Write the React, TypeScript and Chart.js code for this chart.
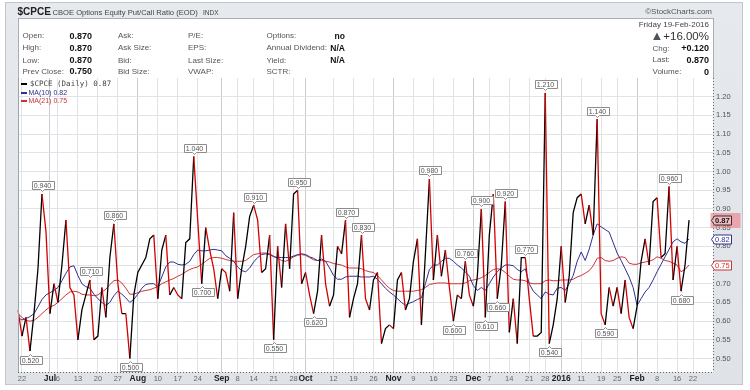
import React, { useEffect, useRef } from 'react';
import { Chart, registerables } from 'chart.js';

Chart.register(...registerables);

// ---------- calendar (category axis) ----------
const FIRST_DAY = '2015-06-19';
const LAST_DAY = '2016-02-29';
const HOLIDAYS = ['2015-07-03', '2015-09-07', '2015-11-26', '2015-12-25', '2016-01-01', '2016-01-18', '2016-02-15'];

function buildTradingDays(): string[] {
  const out: string[] = [];
  const d = new Date(FIRST_DAY + 'T12:00:00Z');
  const end = new Date(LAST_DAY + 'T12:00:00Z');
  while (d <= end) {
    const dow = d.getUTCDay();
    const s = d.toISOString().slice(0, 10);
    if (dow !== 0 && dow !== 6 && !HOLIDAYS.includes(s)) out.push(s);
    d.setUTCDate(d.getUTCDate() + 1);
  }
  return out;
}
const TRADING_DAYS = buildTradingDays();

// ---------- x tick labels ----------
const TICK_DATES = ['2015-06-22', '2015-07-01', '2015-07-06', '2015-07-13', '2015-07-20', '2015-07-27', '2015-08-03', '2015-08-10', '2015-08-17', '2015-08-24', '2015-09-01', '2015-09-08', '2015-09-14', '2015-09-21', '2015-09-28', '2015-10-01', '2015-10-12', '2015-10-19', '2015-10-26', '2015-11-02', '2015-11-09', '2015-11-16', '2015-11-23', '2015-12-01', '2015-12-07', '2015-12-14', '2015-12-21', '2015-12-28', '2016-01-04', '2016-01-11', '2016-01-19', '2016-01-25', '2016-02-01', '2016-02-08', '2016-02-16', '2016-02-22'];
const TICK_TEXTS = ['22', 'Jul', '6', '13', '20', '27', 'Aug', '10', '17', '24', 'Sep', '8', '14', '21', '28', 'Oct', '12', '19', '26', 'Nov', '9', '16', '23', 'Dec', '7', '14', '21', '28', '2016', '11', '19', '25', 'Feb', '8', '16', '22'];
const BOLD_TICKS = ['Jul', 'Aug', 'Sep', 'Oct', 'Nov', 'Dec', '2016', 'Feb'];
const Y_TICKS = [0.5, 0.55, 0.6, 0.65, 0.7, 0.75, 0.8, 0.85, 0.9, 0.95, 1.0, 1.05, 1.1, 1.15, 1.2];

// ---------- series ----------
const CPCE = [
  0.63, 0.56, 0.61, 0.52, 0.62, 0.74, 0.94, 0.84, 0.62, 0.70,
  0.65, 0.75, 0.87, 0.69, 0.67, 0.55, 0.63, 0.67, 0.71, 0.55,
  0.56, 0.69, 0.61, 0.77, 0.86, 0.70, 0.62, 0.62, 0.50, 0.67,
  0.73, 0.75, 0.77, 0.82, 0.83, 0.66, 0.79, 0.83, 0.67, 0.69,
  0.67, 0.66, 0.81, 0.82, 1.04, 0.87, 0.70, 0.85, 0.79, 0.74,
  0.66, 0.74, 0.73, 0.68, 0.89, 0.66, 0.74, 0.80, 0.88, 0.91,
  0.87, 0.73, 0.74, 0.83, 0.55, 0.80, 0.69, 0.86, 0.74, 0.94,
  0.95, 0.70, 0.73, 0.67, 0.62, 0.68, 0.83, 0.70, 0.64, 0.67,
  0.80, 0.78, 0.87, 0.61, 0.66, 0.70, 0.83, 0.66, 0.63, 0.71,
  0.73, 0.54, 0.58, 0.59, 0.58, 0.71, 0.73, 0.63, 0.66, 0.76,
  0.82, 0.59, 0.78, 0.98, 0.71, 0.83, 0.72, 0.79, 0.69, 0.60,
  0.67, 0.66, 0.76, 0.67, 0.64, 0.72, 0.90, 0.61, 0.83, 0.94,
  0.66, 0.75, 0.92, 0.57, 0.66, 0.54, 0.77, 0.77, 0.66, 0.56,
  0.56, 0.57, 1.21, 0.54, 0.59, 0.66, 0.80, 0.65, 0.72, 0.89,
  0.93, 0.94, 0.86, 0.91, 0.83, 1.14, 0.62, 0.59, 0.69, 0.64,
  0.69, 0.62, 0.71, 0.61, 0.58, 0.64, 0.76, 0.82, 0.75, 0.92,
  0.93, 0.77, 0.78, 0.96, 0.71, 0.80, 0.68, 0.75, 0.87,
];

const MA10 = [
  0.610, 0.603, 0.607, 0.612, 0.620, 0.638, 0.658, 0.670, 0.676, 0.682,
  0.690, 0.708, 0.728, 0.745, 0.748, 0.722, 0.700, 0.692, 0.688, 0.672,
  0.660, 0.650, 0.642, 0.650, 0.668, 0.680, 0.672, 0.662, 0.650, 0.658,
  0.672, 0.688, 0.698, 0.700, 0.700, 0.692, 0.718, 0.745, 0.758, 0.758,
  0.752, 0.750, 0.752, 0.760, 0.778, 0.790, 0.788, 0.788, 0.790, 0.792,
  0.790, 0.788, 0.775, 0.768, 0.760, 0.745, 0.735, 0.732, 0.742, 0.758,
  0.770, 0.778, 0.780, 0.778, 0.772, 0.770, 0.770, 0.770, 0.770, 0.774,
  0.778, 0.780, 0.778, 0.772, 0.768, 0.762, 0.766, 0.760, 0.742, 0.722,
  0.712, 0.712, 0.718, 0.720, 0.720, 0.720, 0.718, 0.718, 0.718, 0.720,
  0.712, 0.700, 0.688, 0.678, 0.670, 0.660, 0.650, 0.642, 0.648, 0.652,
  0.658, 0.662, 0.700, 0.738, 0.750, 0.750, 0.760, 0.768, 0.768, 0.760,
  0.750, 0.742, 0.732, 0.720, 0.695, 0.682, 0.690, 0.682, 0.700, 0.718,
  0.732, 0.742, 0.750, 0.750, 0.748, 0.738, 0.732, 0.740, 0.700, 0.680,
  0.670, 0.660, 0.678, 0.672, 0.670, 0.688, 0.690, 0.682, 0.700, 0.722,
  0.760, 0.785, 0.762, 0.792, 0.830, 0.860, 0.852, 0.845, 0.838, 0.810,
  0.782, 0.762, 0.740, 0.718, 0.690, 0.642, 0.660, 0.678, 0.690, 0.710,
  0.732, 0.752, 0.772, 0.792, 0.812, 0.820, 0.812, 0.808, 0.820,
];

const MA21 = [
  0.620, 0.610, 0.602, 0.600, 0.602, 0.610, 0.620, 0.630, 0.638, 0.642,
  0.650, 0.660, 0.670, 0.678, 0.680, 0.678, 0.672, 0.670, 0.670, 0.668,
  0.670, 0.678, 0.685, 0.698, 0.708, 0.710, 0.702, 0.688, 0.672, 0.672,
  0.676, 0.680, 0.682, 0.684, 0.688, 0.692, 0.700, 0.705, 0.710, 0.714,
  0.720, 0.725, 0.732, 0.738, 0.742, 0.745, 0.752, 0.760, 0.768, 0.770,
  0.770, 0.768, 0.765, 0.762, 0.760, 0.760, 0.760, 0.762, 0.770, 0.778,
  0.780, 0.782, 0.782, 0.780, 0.774, 0.768, 0.762, 0.760, 0.765, 0.772,
  0.776, 0.778, 0.776, 0.770, 0.764, 0.762, 0.762, 0.760, 0.758, 0.754,
  0.752, 0.750, 0.745, 0.742, 0.742, 0.742, 0.740, 0.735, 0.732, 0.730,
  0.722, 0.710, 0.698, 0.688, 0.682, 0.680, 0.680, 0.680, 0.680, 0.680,
  0.682, 0.684, 0.690, 0.698, 0.700, 0.702, 0.702, 0.702, 0.700, 0.700,
  0.700, 0.700, 0.702, 0.708, 0.710, 0.712, 0.716, 0.722, 0.730, 0.738,
  0.740, 0.738, 0.730, 0.720, 0.712, 0.710, 0.710, 0.708, 0.702, 0.700,
  0.700, 0.700, 0.708, 0.710, 0.708, 0.708, 0.710, 0.710, 0.710, 0.712,
  0.718, 0.722, 0.728, 0.735, 0.748, 0.768, 0.770, 0.762, 0.760, 0.762,
  0.768, 0.772, 0.770, 0.755, 0.752, 0.752, 0.756, 0.758, 0.760, 0.764,
  0.772, 0.768, 0.762, 0.760, 0.755, 0.750, 0.732, 0.738, 0.750,
];

// indices of annotated extremes
const PEAK_IDX = [6, 18, 24, 44, 59, 70, 82, 86, 103, 112, 116, 122, 127, 132, 145, 163];
const TROUGH_IDX = [3, 28, 46, 64, 74, 109, 117, 120, 133, 147, 166];

const FONT = '"Liberation Sans", Arial, sans-serif';
const RED = '#d40000';
const BLACK = '#000000';
const NAVY = '#2f2f8f';
const MA_RED = '#cc3333';

const tickMap = new Map<string, string>();
TICK_DATES.forEach((d, i) => tickMap.set(d, TICK_TEXTS[i]));

function tickText(index: number): string {
  return tickMap.get(TRADING_DAYS[index]) ?? '';
}

const plotBgPlugin = {
  id: 'plotBg',
  beforeDraw(chart: any) {
    const { ctx, chartArea: a } = chart;
    ctx.save();
    ctx.fillStyle = '#ffffff';
    ctx.fillRect(a.left, a.top, a.right - a.left, a.bottom - a.top);
    ctx.restore();
  },
  afterDraw(chart: any) {
    const { ctx, chartArea: a } = chart;
    ctx.save();
    ctx.lineWidth = 1;
    ctx.strokeStyle = '#9da2a8';
    ctx.beginPath();
    ctx.moveTo(a.left + 0.5, a.top);
    ctx.lineTo(a.left + 0.5, a.bottom);
    ctx.stroke();
    ctx.setLineDash([1, 2]);
    ctx.strokeStyle = '#666';
    ctx.beginPath();
    ctx.moveTo(Math.round(a.right) + 0.5, a.top);
    ctx.lineTo(Math.round(a.right) + 0.5, a.bottom);
    ctx.moveTo(a.left, Math.round(a.bottom) + 0.5);
    ctx.lineTo(a.right, Math.round(a.bottom) + 0.5);
    ctx.stroke();
    ctx.restore();
  },
};

const extremesPlugin = {
  id: 'extremes',
  afterDatasetsDraw(chart: any) {
    const { ctx } = chart;
    const xs = chart.scales.x;
    const ys = chart.scales.y;
    ctx.save();
    ctx.font = '7px ' + FONT;
    ctx.textAlign = 'center';
    ctx.textBaseline = 'middle';
    const draw = (idx: number, above: boolean) => {
      const v = CPCE[idx];
      const px = Math.round(xs.getPixelForValue(idx)) + 0.5;
      const py = ys.getPixelForValue(v);
      const text = v.toFixed(3);
      const w = Math.round(ctx.measureText(text).width) + 4;
      const h = 8;
      const left = Math.round(px - w / 2) + 0.5;
      let top: number;
      ctx.beginPath();
      if (above) {
        top = Math.round(py - 4.5 - h) + 0.5;
        const bottom = top + h;
        ctx.moveTo(left, top);
        ctx.lineTo(left + w, top);
        ctx.lineTo(left + w, bottom);
        ctx.lineTo(px + 2, bottom);
        ctx.lineTo(px, bottom + 2);
        ctx.lineTo(px - 2, bottom);
        ctx.lineTo(left, bottom);
      } else {
        top = Math.round(py + 4.5) + 0.5;
        const bottom = top + h;
        ctx.moveTo(left, top);
        ctx.lineTo(px - 2, top);
        ctx.lineTo(px, top - 2);
        ctx.lineTo(px + 2, top);
        ctx.lineTo(left + w, top);
        ctx.lineTo(left + w, bottom);
        ctx.lineTo(left, bottom);
      }
      ctx.closePath();
      ctx.fillStyle = '#ffffff';
      ctx.fill();
      ctx.strokeStyle = '#8c8c8c';
      ctx.lineWidth = 1;
      ctx.stroke();
      ctx.fillStyle = '#555';
      ctx.fillText(text, px, top + h / 2 + 0.5);
    };
    PEAK_IDX.forEach((i) => draw(i, true));
    TROUGH_IDX.forEach((i) => draw(i, false));
    ctx.restore();
  },
};

function tagPath(ctx: CanvasRenderingContext2D, x: number, y: number, w: number, h: number) {
  ctx.beginPath();
  ctx.moveTo(x, y);
  ctx.lineTo(x + 3, y - h / 2);
  ctx.lineTo(x + w, y - h / 2);
  ctx.lineTo(x + w, y + h / 2);
  ctx.lineTo(x + 3, y + h / 2);
  ctx.closePath();
}

const badgesPlugin = {
  id: 'badges',
  afterDraw(chart: any) {
    const { ctx, chartArea: a } = chart;
    const ys = chart.scales.y;
    const x0 = Math.round(a.right) - 1.5;
    ctx.save();
    ctx.textBaseline = 'middle';
    ctx.textAlign = 'left';
    const badge = (v: number, stroke: string, text: string, fill: string, bold: boolean) => {
      const y = Math.round(ys.getPixelForValue(v)) + 0.5;
      tagPath(ctx, x0, y, 20, 9);
      ctx.fillStyle = fill;
      ctx.fill();
      ctx.strokeStyle = stroke;
      ctx.lineWidth = 1;
      ctx.stroke();
      ctx.fillStyle = text;
      ctx.font = (bold ? 'bold ' : '') + '7.5px ' + FONT;
      ctx.fillText(v.toFixed(2), x0 + 3.5, y + 0.5);
    };
    badge(MA21[MA21.length - 1], MA_RED, MA_RED, '#ffffff', false);
    badge(MA10[MA10.length - 1], NAVY, NAVY, '#ffffff', false);
    const last = CPCE[CPCE.length - 1];
    const yl = Math.round(ys.getPixelForValue(last));
    ctx.fillStyle = 'rgba(238, 120, 132, 0.6)';
    ctx.fillRect(x0 - 1, yl - 7, 30, 15);
    badge(last, '#333333', '#111111', 'rgba(255,255,255,0.25)', true);
    ctx.restore();
  },
};

const T = (p: { l?: number; r?: number; t: number; s: number; b?: boolean; c?: string; f?: string; children: any }) => (
  <div
    style={{
      position: 'absolute',
      left: p.l,
      right: p.r,
      top: p.t,
      fontSize: p.s,
      lineHeight: p.s + 2 + 'px',
      fontWeight: p.b ? 'bold' : 'normal',
      color: p.c ?? '#555',
      fontFamily: p.f ?? FONT,
      whiteSpace: 'nowrap',
    }}
  >
    {p.children}
  </div>
);

export default function App() {
  const canvasRef = useRef<HTMLCanvasElement | null>(null);

  useEffect(() => {
    const canvas = canvasRef.current;
    if (!canvas) return;
    const chart = new Chart(canvas, {
      type: 'line',
      data: {
        labels: TRADING_DAYS,
        datasets: [
          {
            data: CPCE,
            borderColor: BLACK,
            borderWidth: 1.3,
            pointRadius: 0,
            tension: 0,
            segment: {
              borderColor: (c: any) => (c.p1.parsed.y < c.p0.parsed.y ? RED : BLACK),
            },
          },
          { data: MA10, borderColor: NAVY, borderWidth: 1, pointRadius: 0, tension: 0 },
          { data: MA21, borderColor: MA_RED, borderWidth: 1, pointRadius: 0, tension: 0 },
        ],
      },
      options: {
        responsive: false,
        animation: false,
        events: [],
        layout: { padding: { left: 18, top: 78, right: 0, bottom: 0 } },
        plugins: { legend: { display: false }, tooltip: { enabled: false } },
        scales: {
          x: {
            type: 'category',
            offset: false,
            border: { display: false },
            grid: {
              drawTicks: false,
              lineWidth: 1,
              color: (c: any) => {
                const t = tickText(c.index);
                if (!t) return 'rgba(0,0,0,0)';
                return BOLD_TICKS.includes(t) ? '#c9cdd3' : '#e0e3e7';
              },
            },
            ticks: {
              autoSkip: false,
              maxRotation: 0,
              minRotation: 0,
              padding: 2,
              callback: (_v: any, index: number) => tickText(index),
              color: (c: any) => (BOLD_TICKS.includes(tickText(c.index)) ? '#222' : '#666'),
              font: (c: any) =>
                BOLD_TICKS.includes(tickText(c.index))
                  ? { family: FONT, size: 8.5, weight: 'bold' }
                  : { family: FONT, size: 7.5, weight: 'normal' },
            },
            afterFit: (s: any) => {
              s.height = 18;
            },
          },
          y: {
            position: 'right',
            min: 0.464,
            max: 1.25,
            border: { display: false },
            afterBuildTicks: (s: any) => {
              s.ticks = Y_TICKS.map((v) => ({ value: v }));
            },
            grid: { drawTicks: false, color: '#e0e3e7', lineWidth: 1 },
            ticks: {
              padding: 3,
              color: '#555',
              font: { family: FONT, size: 7.5 },
              callback: (v: any) => Number(v).toFixed(2),
            },
            afterFit: (s: any) => {
              s.width = 37;
            },
          },
        },
      } as any,
      plugins: [plotBgPlugin, extremesPlugin, badgesPlugin],
    });
    return () => chart.destroy();
  }, []);

  const lastV = CPCE[CPCE.length - 1];
  const ma10V = MA10[MA10.length - 1];
  const ma21V = MA21[MA21.length - 1];

  const rowTops = [31, 43, 55.5, 66.5];

  return (
    <div style={{ position: 'absolute', left: 0, top: 0, width: 750, height: 390, background: '#ffffff', overflow: 'hidden' }}>
      <div
        style={{
          position: 'absolute',
          left: 5,
          top: 2,
          width: 738,
          height: 383,
          background: 'linear-gradient(#e6e9ed, #dfe3e8)',
          border: '1px solid #c2c6cc',
          boxSizing: 'border-box',
        }}
      />
      <div
        style={{
          position: 'absolute',
          left: 18,
          top: 18,
          width: 696,
          height: 61,
          background: '#ffffff',
          border: '1px solid #a9aeb5',
          boxSizing: 'border-box',
        }}
      />
      <canvas ref={canvasRef} width={750} height={390} style={{ position: 'absolute', left: 0, top: 0, width: 750, height: 390 }} />

      {/* title row */}
      <T l={17.5} t={5.5} s={10} b c="#222">$CPCE</T>
      <T l={52.5} t={7.5} s={7.6} c="#444">CBOE Options Equity Put/Call Ratio (EOD)</T>
      <T l={203} t={8.5} s={6.5} c="#444">INDX</T>
      <T r={38} t={7} s={8} c="#555">©StockCharts.com</T>

      {/* info grid */}
      {['Open:', 'High:', 'Low:', 'Prev Close:'].map((s, i) => (
        <T key={'a' + i} l={22.5} t={rowTops[i]} s={8}>{s}</T>
      ))}
      {['0.870', '0.870', '0.870', '0.750'].map((s, i) => (
        <T key={'b' + i} r={658} t={rowTops[i] - 0.5} s={9} b c="#111">{s}</T>
      ))}
      {['Ask:', 'Ask Size:', 'Bid:', 'Bid Size:'].map((s, i) => (
        <T key={'c' + i} l={118} t={rowTops[i]} s={8}>{s}</T>
      ))}
      {['P/E:', 'EPS:', 'Last Size:', 'VWAP:'].map((s, i) => (
        <T key={'d' + i} l={188} t={rowTops[i]} s={8}>{s}</T>
      ))}
      {['Options:', 'Annual Dividend:', 'Yield:', 'SCTR:'].map((s, i) => (
        <T key={'e' + i} l={266.5} t={rowTops[i]} s={8}>{s}</T>
      ))}
      {['no', 'N/A', 'N/A'].map((s, i) => (
        <T key={'f' + i} r={405} t={rowTops[i] - 0.5} s={8.5} b c="#111">{s}</T>
      ))}

      {/* right block */}
      <T r={41} t={20} s={8} c="#444">Friday  19-Feb-2016</T>
      <div style={{ position: 'absolute', right: 41, top: 27.5, fontFamily: FONT, fontSize: 11.5, lineHeight: '15px', color: '#333', whiteSpace: 'nowrap' }}>
        <span style={{ color: '#4a5260', fontSize: 13 }}>▲</span>+16.00%
      </div>
      <T l={652.5} t={43.5} s={8}>Chg:</T>
      <T r={41} t={43} s={9} b c="#111">+0.120</T>
      <T l={652.5} t={55} s={8}>Last:</T>
      <T r={41} t={54.5} s={9} b c="#111">0.870</T>
      <T l={652.5} t={67} s={8}>Volume:</T>
      <T r={41} t={66.5} s={9} b c="#111">0</T>

      {/* legend */}
      <div style={{ position: 'absolute', left: 21, top: 83, width: 6, height: 2, background: '#000' }} />
      <T l={30} t={78.5} s={7.5} c="#444" f='"DejaVu Sans Mono", monospace'>$CPCE (Daily) {lastV.toFixed(2)}</T>
      <div style={{ position: 'absolute', left: 21, top: 91.5, width: 6, height: 2, background: NAVY }} />
      <T l={28.5} t={87.5} s={7} c={NAVY}>MA(10) {ma10V.toFixed(2)}</T>
      <div style={{ position: 'absolute', left: 21, top: 99.5, width: 6, height: 2, background: MA_RED }} />
      <T l={28.5} t={95.5} s={7} c={MA_RED}>MA(21) {ma21V.toFixed(2)}</T>
    </div>
  );
}
